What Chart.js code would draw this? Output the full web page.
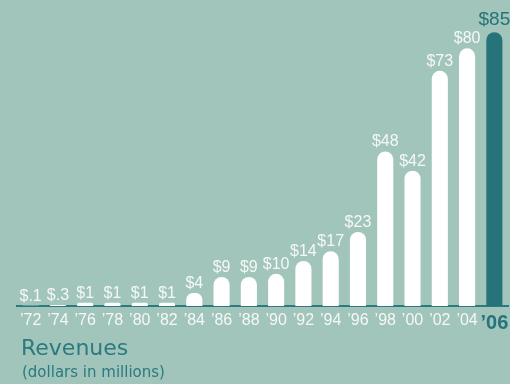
<!DOCTYPE html>
<html>
<head>
<meta charset="utf-8">
<script src="https://cdn.jsdelivr.net/npm/chart.js@4"></script>
<style>
  html, body { margin: 0; padding: 0; background: #a2c5bb; }
  #wrap { position: relative; width: 510px; height: 384px; font-family: "Liberation Sans", Arial, sans-serif; }
  #chart { position: absolute; left: 0; top: 0; }
  #title { position: absolute; left: 21px; top: 337px; font-family: "DejaVu Sans", sans-serif; font-size: 22px; line-height: 22px; color: #2b7a80; }
  #sub { position: absolute; left: 22px; top: 365px; font-family: "DejaVu Sans", sans-serif; font-size: 15px; line-height: 15px; color: #2b7a80; }
</style>
</head>
<body>
<div id="wrap">
  <canvas id="chart" width="510" height="384"></canvas>
  <div id="title">Revenues</div>
  <div id="sub">(dollars in millions)</div>
</div>
<script>
const years = ["’72", "’74", "’76", "’78", "’80", "’82", "’84", "’86", "’88", "’90", "’92", "’94", "’96", "’98", "’00", "’02", "’04", "’06"];
const revenues = [0.1, 0.3, 1, 1, 1, 1, 4, 9, 9, 10, 14, 17, 23, 48, 42, 73, 80, 85];
const valueLabels = ["$.1", "$.3", "$1", "$1", "$1", "$1", "$4", "$9", "$9", "$10", "$14", "$17", "$23", "$48", "$42", "$73", "$80", "$85"];

const white = "#ffffff";
const teal = "#26737a";
const last = years.length - 1;

// etiquetas de valor encima de cada barra
const valorEncima = {
    id: "valorEncima",
    afterDatasetsDraw(chart) {
        const ctx = chart.ctx;
        const meta = chart.getDatasetMeta(0);
        ctx.save();
        ctx.textAlign = "center";
        ctx.textBaseline = "alphabetic";
        meta.data.forEach(function (bar, i) {
            const big = i === last;
            ctx.font = big ? "19px 'Liberation Sans', Arial, sans-serif" : "16px 'Liberation Sans', Arial, sans-serif";
            ctx.fillStyle = big ? teal : "#f4f8f6";
            ctx.fillText(valueLabels[i], bar.x, bar.y - (big ? 7 : 5));
        });
        ctx.restore();
    }
};

new Chart(document.getElementById("chart").getContext("2d"), {
    type: "bar",
    data: {
        labels: years,
        datasets: [{
            data: revenues,
            backgroundColor: revenues.map(function (v, i) { return i === last ? teal : white; }),
            borderRadius: { topLeft: 8, topRight: 8 },
            borderSkipped: "bottom",
            barPercentage: 0.59,
            categoryPercentage: 1
        }]
    },
    options: {
        responsive: false,
        animation: false,
        layout: { padding: { left: 17, right: 2, top: 0, bottom: 52 } },
        plugins: { legend: { display: false }, tooltip: { enabled: false } },
        scales: {
            x: {
                grid: { display: false },
                border: { color: "#2b7a80", width: 2 },
                ticks: {
                    padding: -3,
                    maxRotation: 0,
                    autoSkip: false,
                    color: function (c) { return c.index === last ? teal : "#f4f8f6"; },
                    font: function (c) {
                        return c.index === last
                            ? { family: "'Liberation Sans', Arial, sans-serif", size: 20, weight: "bold" }
                            : { family: "'Liberation Sans', Arial, sans-serif", size: 16 };
                    }
                }
            },
            y: {
                display: false,
                min: 0,
                max: 95
            }
        }
    },
    plugins: [valorEncima]
});
</script>
</body>
</html>
